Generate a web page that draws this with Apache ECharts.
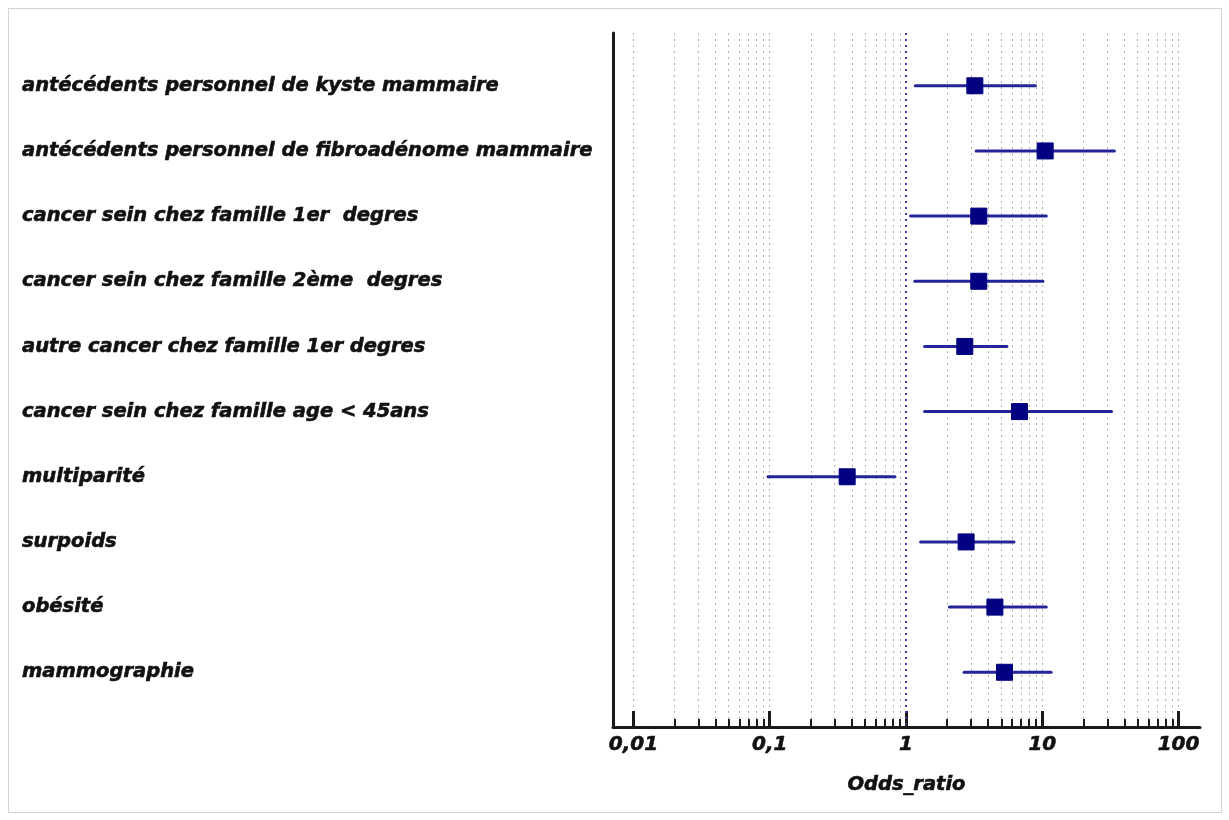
<!DOCTYPE html>
<html>
<head>
<meta charset="utf-8">
<script src="https://cdn.jsdelivr.net/npm/echarts@6/dist/echarts.min.js"></script>
<style>
  html, body { margin: 0; padding: 0; background: #fff; }
  #chart { position: absolute; left: 0; top: 0; width: 1229px; height: 820px; }
  #frame { position: absolute; left: 8px; top: 8px; width: 1212px; height: 803px;
           border: 1px solid #d4d4d4; pointer-events: none; }
</style>
</head>
<body>
<div id="chart"></div>
<div id="frame"></div>
<script>
// Risk factors (top to bottom)
const factors = [
  'antécédents personnel de kyste mammaire',
  'antécédents personnel de fibroadénome mammaire',
  'cancer sein chez famille 1er  degres',
  'cancer sein chez famille 2ème  degres',
  'autre cancer chez famille 1er degres',
  'cancer sein chez famille age < 45ans',
  'multiparité',
  'surpoids',
  'obésité',
  'mammographie'
];
// Odds ratios with 95% confidence bounds
const oddsRatio = [3.2, 10.5, 3.42, 3.42, 2.70, 6.8, 0.37, 2.76, 4.49, 5.28];
const ciLower   = [1.17, 3.27, 1.08, 1.16, 1.37, 1.37, 0.097, 1.28, 2.08, 2.67];
const ciUpper   = [8.9, 33.8, 10.7, 10.1, 5.5, 32.2, 0.83, 6.2, 10.7, 11.6];

// Axis ticks
const majorTicks = [0.01, 0.1, 1, 10, 100];
const majorTickLabels = ['0,01', '0,1', '1', '10', '100'];
const minorTicks = [];
[0.01, 0.1, 1, 10].forEach(function (d) {
  for (let k = 1; k <= 9; k++) minorTicks.push(+(d * k).toPrecision(3));
});
minorTicks.push(100);
const referenceOR = 1;

const labelFont = {
  fontFamily: 'DejaVu Sans',
  fontWeight: 'bold',
  fontStyle: 'italic',
  color: '#111',
  textBorderColor: '#111',
  textBorderWidth: 0.6
};

const xMin = 0.00708, xMax = 143.6;

const chart = echarts.init(document.getElementById('chart'), null, { renderer: 'canvas' });

const rowIdx = factors.map(function (_, i) { return i; });

chart.setOption({
  animation: false,
  backgroundColor: '#fff',
  grid: { left: 613, right: 29, top: 33, bottom: 93 },
  xAxis: [
    {
      type: 'log',
      min: xMin, max: xMax,
      z: 3,
      name: 'Odds_ratio',
      nameLocation: 'middle',
      nameGap: 48,
      nameTextStyle: Object.assign({ fontSize: 19.5 }, labelFont),
      axisLine: { show: true, onZero: false, lineStyle: { color: '#1a1a1a', width: 3 } },
      axisTick: { show: true, inside: true, length: 16, customValues: majorTicks,
                  lineStyle: { color: '#1a1a1a', width: 3 } },
      axisLabel: Object.assign({
        fontSize: 20, margin: 8,
        customValues: majorTicks,
        formatter: function (v) {
          const i = majorTicks.findIndex(function (t) { return Math.abs(Math.log10(t) - Math.log10(v)) < 1e-6; });
          return i >= 0 ? majorTickLabels[i] : '';
        }
      }, labelFont),
      splitLine: { show: false }
    },
    {
      type: 'log',
      min: xMin, max: xMax,
      position: 'bottom',
      axisLine: { show: false, onZero: false },
      axisTick: { show: true, inside: true, length: 8, customValues: minorTicks,
                  lineStyle: { color: '#1a1a1a', width: 2 } },
      axisLabel: { show: false },
      splitLine: { show: true, lineStyle: { color: '#b0b0b0', width: 1, type: [2, 4] } }
    }
  ],
  yAxis: {
    type: 'value',
    inverse: true,
    min: -0.81, max: 9.84,
    axisLine: { show: true, onZero: false, lineStyle: { color: '#1a1a1a', width: 3 } },
    axisTick: { show: false },
    splitLine: { show: false },
    axisLabel: Object.assign({
      fontSize: 19.5,
      align: 'left',
      margin: 591,
      customValues: rowIdx,
      formatter: function (v) { return factors[Math.round(v)] || ''; }
    }, labelFont)
  },
  series: [
    {
      type: 'custom',
      xAxisIndex: 0,
      z: 3,
      data: rowIdx.map(function (i) { return [ciLower[i], ciUpper[i], i]; }),
      encode: { x: [0, 1], y: 2 },
      renderItem: function (params, api) {
        const p1 = api.coord([api.value(0), api.value(2)]);
        const p2 = api.coord([api.value(1), api.value(2)]);
        return {
          type: 'line',
          shape: { x1: p1[0], y1: p1[1], x2: p2[0], y2: p2[1] },
          style: { stroke: '#23239a', lineWidth: 3, lineCap: 'round' }
        };
      },
      markLine: {
        silent: true,
        symbol: 'none',
        label: { show: false },
        lineStyle: { color: '#3a3aa8', width: 2, type: [2, 4], opacity: 1 },
        data: [{ xAxis: referenceOR }]
      }
    },
    {
      type: 'scatter',
      xAxisIndex: 0,
      z: 4,
      symbol: 'rect',
      symbolSize: 16,
      itemStyle: { color: '#000080', borderColor: '#000080', borderWidth: 1, opacity: 1 },
      data: rowIdx.map(function (i) { return [oddsRatio[i], i]; })
    }
  ]
});
</script>
</body>
</html>
